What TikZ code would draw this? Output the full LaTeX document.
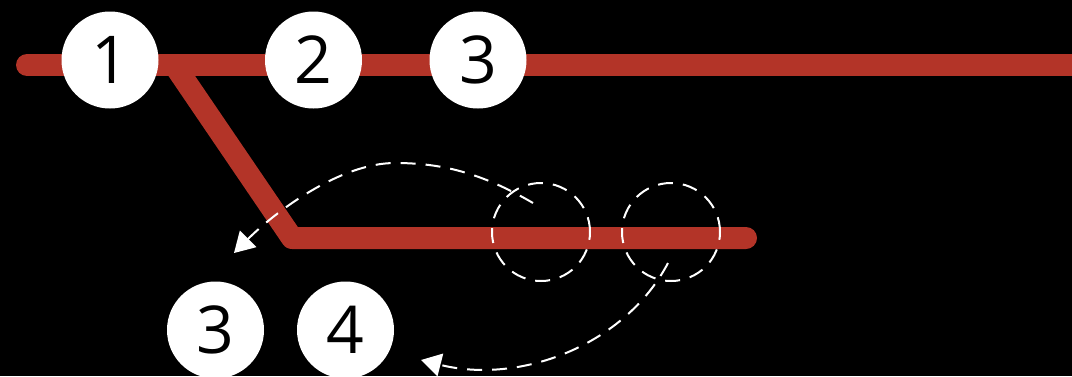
\documentclass[tikz,border=0pt]{standalone}
\usepackage{fontspec}
\setmainfont{Open Sans}
\usetikzlibrary{arrows.meta}
\definecolor{railred}{RGB}{179,52,40}
\begin{document}
\begin{tikzpicture}[x=1pt,y=-1pt,
  rail/.style={line width=22pt, draw=railred, line cap=round, line join=round},
  stopnode/.style={circle, fill=white, minimum size=97pt, inner sep=0pt,
    font=\fontsize{66}{66}\selectfont, text=black},
  flow/.style={draw=white, line width=2pt, dash pattern=on 15pt off 10pt},
  flowtip/.style={-{Triangle[width=23pt,length=20pt,fill=white]}},
  loopnode/.style={flow, circle, minimum size=98pt, inner sep=0pt}]
\fill[black] (0,0) rectangle (1072,376);
\useasboundingbox (0,0) rectangle (1072,376);
\clip (0,0) rectangle (1072,376);
% rails
\coordinate (m0) at (27,65);
\coordinate (m1) at (1100,65);
\coordinate (b0) at (175,66);
\coordinate (b1) at (292,238);
\coordinate (b2) at (746,238);
\draw[rail] (m0) -- (m1);
\draw[rail] (b0) -- (b1) -- (b2);
% stops
\node[stopnode] (s1) at (110,60) {\raisebox{-2.5pt}{1}};
\node[stopnode] (s2) at (313.5,60) {\raisebox{-2.5pt}{2}};
\node[stopnode] (s3) at (478,60) {\raisebox{-2.5pt}{3}};
\node[stopnode] (t3) at (215.5,330) {\raisebox{-2.5pt}{3}};
\node[stopnode] (t4) at (345.5,330) {\raisebox{-2.5pt}{4}};
% loops
\node[loopnode] (c1) at (541,232) {};
\node[loopnode] (c2) at (671,232) {};
% flows
\coordinate (f1s) at (533,203);
\coordinate (f1m) at (395,163);
\coordinate (f1e) at (234,253);
\coordinate (f2s) at (668,263);
\coordinate (f2e) at (421,360);
\draw[flow, flowtip] (f1s) .. controls (480,172) and (440,163) .. (f1m)
  .. controls (340,163) and (275,212) .. (f1e);
\draw[flow, flowtip] (f2s) .. controls (625,345) and (520,385) .. (f2e);
\end{tikzpicture}
\end{document}
